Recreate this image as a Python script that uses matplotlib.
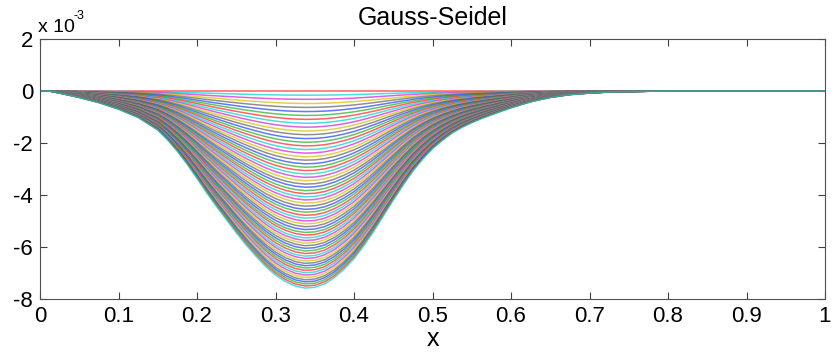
import numpy as np
import matplotlib
matplotlib.use('Agg')
import matplotlib.pyplot as plt
from matplotlib import rcParams
from matplotlib import font_manager

names = set(f.name for f in font_manager.fontManager.ttflist)
narrow = 'Liberation Sans Narrow' if 'Liberation Sans Narrow' in names else 'Liberation Sans'

rcParams['font.family'] = [narrow, 'DejaVu Sans']
rcParams['font.size'] = 14
rcParams['axes.unicode_minus'] = False
rcParams['lines.linewidth'] = 1

x_pts = [0.0, 0.0125, 0.025, 0.05, 0.075, 0.1, 0.125, 0.15, 0.1625, 0.175,
         0.1875, 0.2, 0.2125, 0.225, 0.2375, 0.25, 0.2625, 0.275, 0.2875, 0.3,
         0.3125, 0.325, 0.3375, 0.35, 0.3625, 0.375, 0.3875, 0.4, 0.4125, 0.425,
         0.4375, 0.45, 0.4625, 0.475, 0.4875, 0.5, 0.5125, 0.525, 0.5375, 0.55,
         0.5625, 0.575, 0.5875, 0.6, 0.6125, 0.625, 0.6375, 0.65, 0.675, 0.7,
         0.725, 0.75, 0.775, 0.8, 0.9, 1.0]
u_final = [0.0, 0.0, -0.08, -0.25, -0.45, -0.7, -1.02, -1.5, -1.88, -2.32,
           -2.82, -3.36, -3.92, -4.45, -4.95, -5.45, -5.92, -6.35, -6.75, -7.08,
           -7.33, -7.5, -7.58, -7.55, -7.42, -7.18, -6.85, -6.45, -5.95, -5.4,
           -4.8, -4.2, -3.62, -3.08, -2.62, -2.22, -1.9, -1.62, -1.4, -1.22,
           -1.06, -0.92, -0.78, -0.65, -0.53, -0.42, -0.33, -0.25, -0.14, -0.08,
           -0.04, -0.02, -0.01, 0.0, 0.0, 0.0]

# depth at the minimum of each plotted iterate (units of 1e-3)
depths = [0, -0.16, -0.32, -0.48, -0.63, -0.79, -0.94, -1.09, -1.24, -1.39,
          -1.54, -1.68, -1.83, -1.97, -2.11, -2.25, -2.39, -2.53, -2.66, -2.80,
          -2.93, -3.06, -3.19, -3.32, -3.45, -3.58, -3.70, -3.83, -3.95, -4.07,
          -4.19, -4.31, -4.43, -4.55, -4.66, -4.78, -4.89, -5.00, -5.11, -5.22,
          -5.33, -5.44, -5.54, -5.65, -5.75, -5.85, -5.95, -6.05, -6.15, -6.25,
          -6.35, -6.44, -6.54, -6.63, -6.72, -6.81, -6.90, -6.99, -7.08, -7.17,
          -7.26, -7.34, -7.42, -7.50, -7.58]

xticks = [0, 0.1, 0.2, 0.3, 0.4, 0.5, 0.6, 0.7, 0.8, 0.9, 1]
xticklabels = ['0', '0.1', '0.2', '0.3', '0.4', '0.5', '0.6', '0.7', '0.8', '0.9', '1']
yticks = [-8, -6, -4, -2, 0, 2]

# old matlab colour order, started at red
colors = ['#ff2020', '#00d0d0', '#d020d0', '#d0c000', '#606060', '#2040ff', '#20b020']

x = np.array(x_pts)
prof = np.array(u_final)
umin = min(u_final)

fig = plt.figure(figsize=(8.4, 3.53), dpi=100)
ax = fig.add_axes([40/840, 1-299/353, 785/840, 260/353])

for k, d in enumerate(depths):
    ax.plot(x, prof*d/umin, color=colors[k % len(colors)], linewidth=1.1, alpha=0.7)

ax.set_xlim(0, 1)
ax.set_ylim(-8, 2)
ax.set_xticks(xticks)
ax.set_xticklabels(xticklabels)
ax.set_yticks(yticks)
ax.tick_params(direction='in', top=True, right=True, length=5, width=0.8,
               labelsize=16, colors='#404040', labelcolor='k', pad=5)
for s in ax.spines.values():
    s.set_color('#505050')
    s.set_linewidth(0.8)

ax.set_title('Gauss-Seidel', fontsize=18, pad=10, fontfamily=['Liberation Sans', 'DejaVu Sans'])
ax.set_xlabel('x', fontsize=18, labelpad=0)
fig.text(38/840, 1-32/353, 'x 10', fontsize=14, va='baseline')
fig.text(73/840, 1-19/353, '-3', fontsize=9, va='baseline')

plt.savefig('out.png', dpi=100)
